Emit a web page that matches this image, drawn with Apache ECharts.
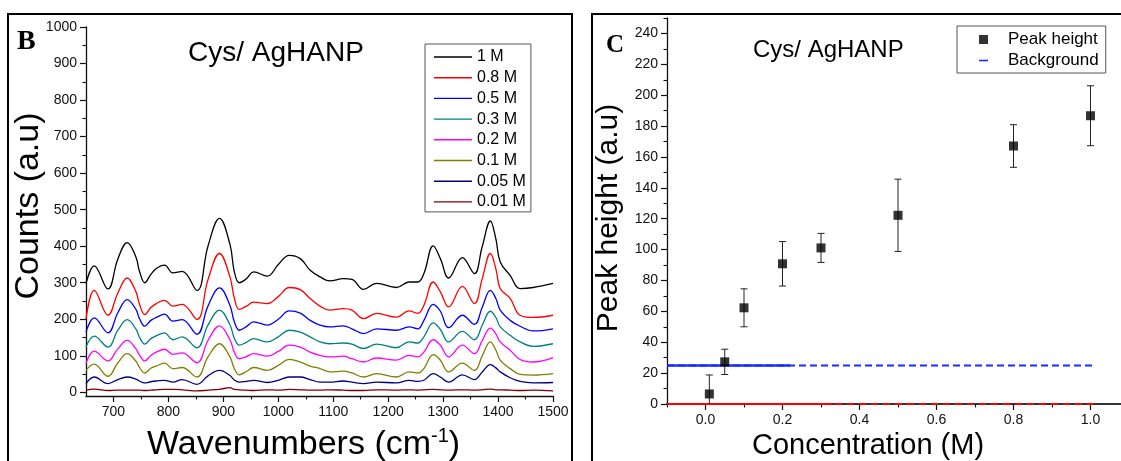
<!DOCTYPE html>
<html><head><meta charset="utf-8">
<script src="https://cdn.jsdelivr.net/npm/echarts@6/dist/echarts.min.js"></script>
<style>html,body{margin:0;padding:0;background:#fff}#c{width:1121px;height:461px}</style>
</head><body><div id="c"></div>
<script>
// ---------- Panel B: SERS spectra ----------
const wavenumbers = [650, 665, 690, 708, 725, 741, 747, 757, 768, 778, 793, 808, 825, 852, 872, 893, 912, 920, 929, 942, 955, 980, 1000, 1020, 1040, 1058, 1076, 1094, 1118, 1134, 1155, 1179, 1215, 1238, 1254, 1265, 1282, 1295, 1310, 1335, 1357, 1371, 1386, 1396, 1404, 1422, 1440, 1464, 1500];
const counts_1M   = [298, 346, 283, 365, 410, 370, 333, 300, 323, 339, 348, 327, 331, 279, 400, 476, 405, 330, 300, 311, 330, 318, 350, 375, 366, 334, 316, 305, 311, 309, 282, 298, 287, 302, 302, 325, 401, 366, 313, 369, 325, 398, 469, 420, 357, 320, 284, 287, 298];
const counts_08M  = [200, 279, 211, 272, 313, 275, 243, 213, 232, 243, 252, 236, 241, 200, 308, 380, 316, 258, 227, 236, 247, 243, 262, 287, 281, 257, 236, 225, 229, 225, 202, 216, 206, 223, 216, 238, 302, 275, 234, 290, 243, 310, 380, 338, 284, 257, 211, 205, 211];
const counts_05M  = [165, 204, 163, 218, 254, 227, 203, 181, 197, 205, 214, 195, 199, 159, 236, 286, 238, 193, 170, 180, 193, 184, 200, 223, 217, 197, 184, 179, 182, 174, 161, 174, 170, 179, 174, 197, 241, 222, 177, 211, 186, 232, 279, 257, 225, 197, 181, 168, 174];
const counts_03M  = [124, 154, 124, 170, 199, 173, 152, 132, 147, 155, 163, 144, 152, 122, 184, 225, 185, 148, 129, 137, 147, 138, 152, 170, 165, 152, 138, 133, 135, 132, 120, 132, 122, 138, 135, 152, 190, 172, 138, 167, 144, 183, 222, 205, 179, 156, 138, 126, 133];
const counts_02M  = [79, 113, 86, 119, 142, 119, 103, 86, 101, 110, 118, 104, 108, 81, 142, 182, 144, 110, 92, 98, 106, 99, 112, 129, 124, 110, 101, 97, 99, 92, 83, 94, 88, 101, 97, 110, 144, 129, 97, 129, 106, 141, 176, 160, 138, 115, 90, 83, 95];
const counts_01M  = [60, 77, 44, 81, 106, 85, 69, 53, 66, 72, 80, 65, 68, 42, 97, 133, 97, 65, 48, 57, 68, 60, 74, 90, 83, 72, 65, 56, 58, 53, 42, 51, 42, 56, 53, 65, 103, 88, 56, 80, 60, 99, 138, 116, 88, 65, 49, 47, 51];
const counts_005M = [24, 42, 24, 35, 42, 36, 31, 26, 29, 31, 33, 28, 35, 22, 45, 60, 46, 34, 28, 30, 33, 27, 33, 42, 42, 35, 28, 28, 31, 28, 24, 28, 26, 33, 30, 33, 51, 42, 28, 48, 35, 55, 76, 67, 56, 40, 30, 26, 27];
const counts_001M = [6, 9, 5, 6, 6, 6, 6, 5, 6, 7, 8, 8, 7, 4, 6, 8, 13, 8, 7, 6, 5, 7, 6, 8, 7, 6, 6, 7, 6, 5, 5, 7, 6, 7, 6, 7, 8, 7, 6, 7, 6, 7, 9, 7, 7, 6, 5, 6, 4];
const spectraNames = ['1 M', '0.8 M', '0.5 M', '0.3 M', '0.2 M', '0.1 M', '0.05 M', '0.01 M'];
const spectraValues = [counts_1M, counts_08M, counts_05M, counts_03M, counts_02M, counts_01M, counts_005M, counts_001M];
const bXTicks = [700, 800, 900, 1000, 1100, 1200, 1300, 1400, 1500];
const bXMinor = [750, 850, 950, 1050, 1150, 1250, 1350, 1450];
const bYTicks = [0, 100, 200, 300, 400, 500, 600, 700, 800, 900, 1000];
const bYMinor = [50, 150, 250, 350, 450, 550, 650, 750, 850, 950];

// ---------- Panel C: peak height vs concentration ----------
const concentration = [0.01, 0.05, 0.1, 0.2, 0.3, 0.5, 0.8, 1.0];
const peakHeight    = [6.5, 27.3, 62.3, 90.8, 101.1, 122.2, 167.1, 186.7];
const peakError     = [12.3, 8.2, 12.3, 14.4, 9.4, 23.4, 13.8, 19.4];
const backgroundX   = [-0.1, 1.01];
const backgroundY   = [25, 25];
const backgroundSolidX = [-0.1, 0.22];
const zeroLineX     = [-0.1, 1.01];
const zeroLineY     = [0, 0];
const zeroSolidX    = [-0.1, 0.33];
const cXTicks = [0.0, 0.2, 0.4, 0.6, 0.8, 1.0];
const cXMinor = [-0.1, 0.1, 0.3, 0.5, 0.7, 0.9, 1.1];
const cYTicks = [0, 20, 40, 60, 80, 100, 120, 140, 160, 180, 200, 220, 240];
const cYMinor = [10, 30, 50, 70, 90, 110, 130, 150, 170, 190, 210, 230, 250];

const spectraColors = ['#000000', '#FF0000', '#0000FF', '#008080', '#FF00FF', '#808000', '#000080', '#800000'];

const chart = echarts.init(document.getElementById('c'), null, {renderer: 'canvas'});
const FONT = 'Liberation Sans';
const axisLineStyle = {color: '#111', width: 1.3};

function majorAxis(gridIndex, min, max, ticks, fmt) {
  return {
    type: 'value', gridIndex, min, max,
    axisLine: {show: true, onZero: false, lineStyle: axisLineStyle},
    axisTick: {show: true, inside: false, length: 6, lineStyle: {color: '#111', width: 1.2}, customValues: ticks},
    axisLabel: {show: true, customValues: ticks, margin: 9, color: '#111', fontSize: 14, fontFamily: FONT,
      formatter: fmt || (v => String(v))},
    splitLine: {show: false}, minorTick: {show: false}
  };
}
function minorAxis(gridIndex, min, max, ticks, position) {
  return {
    type: 'value', gridIndex, min, max, position,
    axisLine: {show: false, onZero: false},
    axisTick: {show: true, inside: false, length: 3.5, lineStyle: {color: '#111', width: 1.1}, customValues: ticks},
    axisLabel: {show: false},
    splitLine: {show: false}
  };
}

const xB = majorAxis(0, 650, 1500, bXTicks); xB.position = 'bottom';
const yB = majorAxis(0, -10, 1000, bYTicks); yB.position = 'left';
const xC = majorAxis(1, -0.1, 1.1, cXTicks, v => Number(v).toFixed(1)); xC.position = 'bottom';
xC.axisLine.lineStyle = {color: '#333', width: 2};
const yC = majorAxis(1, 0, 250, cYTicks); yC.position = 'left';

const spectraSeries = spectraNames.map((name, i) => ({
  name, type: 'line', xAxisIndex: 0, yAxisIndex: 0,
  data: wavenumbers.map((w, j) => [w, spectraValues[i][j]]),
  symbol: 'none', smooth: 0.4,
  lineStyle: {color: spectraColors[i], width: 1.3}, itemStyle: {color: spectraColors[i]},
  z: 10 - i, animation: false
}));

const lineIcon = 'path://M0,0H38V1.4H0Z';
const dashIcon = 'path://M0,0H9V1.6H0Z';

const option = {
  animation: false,
  textStyle: {fontFamily: FONT, color: '#000'},
  grid: [
    {left: 86, top: 27, width: 467, height: 369, containLabel: false, outerBoundsMode: 'none', show: false},
    {left: 667, top: 18, width: 462, height: 386, containLabel: false, outerBoundsMode: 'none', show: false}
  ],
  xAxis: [xB, minorAxis(0, 650, 1500, bXMinor, 'bottom'), xC, minorAxis(1, -0.1, 1.1, cXMinor, 'bottom')],
  yAxis: [yB, minorAxis(0, -10, 1000, bYMinor, 'left'), yC, minorAxis(1, 0, 250, cYMinor, 'left')],
  legend: [
    {
      data: spectraNames.map(n => ({name: n, icon: lineIcon})), orient: 'vertical', left: 425, top: 44,
      itemWidth: 38, itemHeight: 14, itemGap: 4.7, padding: [5, 5, 2, 9], symbolKeepAspect: true,
      borderColor: '#555', borderWidth: 1, backgroundColor: '#fff',
      textStyle: {fontSize: 16, fontFamily: FONT, color: '#000'},
      selectedMode: false
    },
    {
      data: [{name: 'Peak height', icon: 'rect'}, {name: 'Background', icon: dashIcon}],
      orient: 'vertical', left: 957, top: 26, symbolKeepAspect: true,
      itemWidth: 9, itemHeight: 9, itemGap: 4, padding: [5, 7, 4, 22],
      borderColor: '#555', borderWidth: 1, backgroundColor: '#fff',
      textStyle: {fontSize: 17, fontFamily: FONT, color: '#000', padding: [0, 0, 0, 15]},
      selectedMode: false
    }
  ],
  series: [
    ...spectraSeries,
    {
      name: 'zeroSolid', type: 'line', xAxisIndex: 2, yAxisIndex: 2, clip: false,
      data: zeroSolidX.map((x, i) => [x, zeroLineY[i]]), symbol: 'none',
      lineStyle: {color: '#FF0000', width: 2}, z: 5
    },
    {
      name: 'zero', type: 'line', xAxisIndex: 2, yAxisIndex: 2, clip: false,
      data: zeroLineX.map((x, i) => [x, zeroLineY[i]]), symbol: 'none',
      lineStyle: {color: '#FF0000', width: 2, type: [7, 5]}, z: 5
    },
    {
      name: 'bgSolid', type: 'line', xAxisIndex: 2, yAxisIndex: 2,
      data: backgroundSolidX.map((x, i) => [x, backgroundY[i]]), symbol: 'none',
      lineStyle: {color: '#1a2cff', width: 2.5}, z: 5
    },
    {
      name: 'Background', type: 'line', xAxisIndex: 2, yAxisIndex: 2,
      data: backgroundX.map((x, i) => [x, backgroundY[i]]), symbol: 'none',
      lineStyle: {color: '#1a2cff', width: 2, type: [7, 4]}, itemStyle: {color: '#1a2cff'}, z: 5
    },
    {
      name: 'errors', type: 'custom', xAxisIndex: 2, yAxisIndex: 2, clip: true,
      data: concentration.map((c, i) => [c, peakHeight[i] - peakError[i], peakHeight[i] + peakError[i]]),
      encode: {x: 0, y: [1, 2]},
      renderItem: (params, api) => {
        const lo = api.coord([api.value(0), api.value(1)]);
        const hi = api.coord([api.value(0), api.value(2)]);
        const hw = 3.5, st = {stroke: '#222', lineWidth: 1};
        return {type: 'group', children: [
          {type: 'line', shape: {x1: lo[0], y1: lo[1], x2: hi[0], y2: hi[1]}, style: st},
          {type: 'line', shape: {x1: hi[0] - hw, y1: hi[1], x2: hi[0] + hw, y2: hi[1]}, style: st},
          {type: 'line', shape: {x1: lo[0] - hw, y1: lo[1], x2: lo[0] + hw, y2: lo[1]}, style: st}
        ]};
      }, z: 6
    },
    {
      name: 'Peak height', type: 'scatter', xAxisIndex: 2, yAxisIndex: 2,
      data: concentration.map((c, i) => [c, peakHeight[i]]),
      symbol: 'rect', symbolSize: 9, itemStyle: {color: '#000'}, z: 7
    }
  ],
  graphic: [
    {type: 'rect', shape: {x: 8, y: 14, width: 564, height: 480}, style: {fill: 'none', stroke: '#000', lineWidth: 2}, silent: true, z: -1},
    {type: 'rect', shape: {x: 592, y: 14, width: 560, height: 480}, style: {fill: 'none', stroke: '#000', lineWidth: 2}, silent: true, z: -1},
    {type: 'text', x: 17, y: 42, style: {text: 'B', font: 'bold 28px "Liberation Serif"', fill: '#000', align: 'left', verticalAlign: 'middle'}},
    {type: 'text', x: 606, y: 46, style: {text: 'C', font: 'bold 25px "Liberation Serif"', fill: '#000', align: 'left', verticalAlign: 'middle'}},
    {type: 'text', x: 188, y: 53, style: {text: 'Cys/ AgHANP', font: '28px "Liberation Sans"', fill: '#000', align: 'left', verticalAlign: 'middle'}},
    {type: 'text', x: 753, y: 50, style: {text: 'Cys/ AgHANP', font: '24px "Liberation Sans"', fill: '#000', align: 'left', verticalAlign: 'middle'}},
    {type: 'text', x: 29, y: 206, rotation: Math.PI / 2, style: {text: 'Counts (a.u)', font: '34px "Liberation Sans"', fill: '#000', align: 'center', verticalAlign: 'middle'}},
    {type: 'text', x: 609, y: 218, rotation: Math.PI / 2, style: {text: 'Peak height (a.u)', font: '30px "Liberation Sans"', fill: '#000', align: 'center', verticalAlign: 'middle'}},
    {type: 'text', x: 147, y: 445, style: {
      text: '{a|Wavenumbers (cm}{s|-1}{a|)}', align: 'left', verticalAlign: 'middle',
      rich: {
        a: {fontSize: 34, fontFamily: FONT, fill: '#000', color: '#000', lineHeight: 37},
        s: {fontSize: 20, fontFamily: FONT, fill: '#000', color: '#000', lineHeight: 16, verticalAlign: 'top'}
      }}},
    {type: 'text', x: 868, y: 446, style: {text: 'Concentration (M)', font: '29px "Liberation Sans"', fill: '#000', align: 'center', verticalAlign: 'middle'}}
  ]
};
chart.setOption(option);
</script>
</body></html>
